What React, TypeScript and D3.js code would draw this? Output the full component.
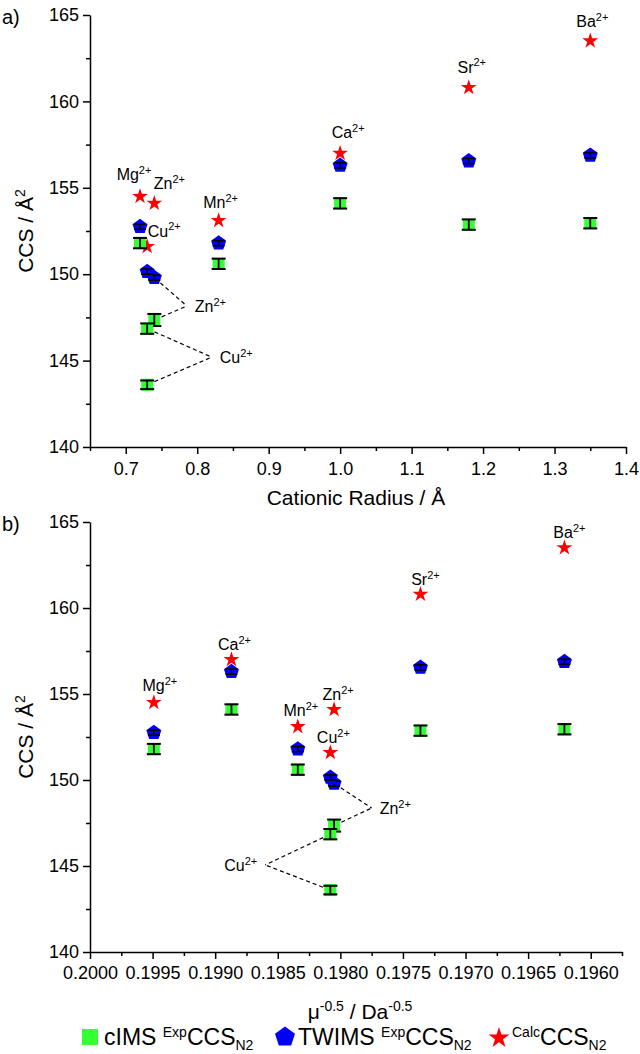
import React, { useEffect, useRef } from 'react';
import * as d3 from 'd3';

// metal ions, in the order they are listed everywhere below
const ions = ['Mg', 'Ca', 'Mn', 'Zn', 'Cu', 'Sr', 'Ba'];
const cationicRadius = [0.72, 1.0, 0.83, 0.74, 0.73, 1.18, 1.35];
const muInvSqrt = [0.19949, 0.19887, 0.19834, 0.19805, 0.19808, 0.19736, 0.19621];

// TWIMS exp CCS (N2) and calculated CCS, one per ion
const twimsCcs = [152.75, 156.3, 151.8, 149.8, 150.15, 156.55, 156.88];
const twimsErr = [0.15, 0.15, 0.15, 0.15, 0.15, 0.15, 0.15];
const calcCcs = [154.5, 157.0, 153.1, 154.1, 151.6, 160.8, 163.5];

// cIMS exp CCS (N2): Cu has two features
const cimsIons = ['Mg', 'Ca', 'Mn', 'Zn', 'Cu', 'Cu', 'Sr', 'Ba'];
const cimsCcs = [151.8, 154.1, 150.6, 147.35, 146.85, 143.6, 152.87, 152.95];
const cimsErr = [0.3, 0.3, 0.3, 0.35, 0.3, 0.25, 0.3, 0.3];

const yTicks = [140, 145, 150, 155, 160, 165];
const yMinor = [142.5, 147.5, 152.5, 157.5, 162.5];
const radiusTicks = [0.7, 0.8, 0.9, 1.0, 1.1, 1.2, 1.3, 1.4];
const radiusMinor = [0.65, 0.75, 0.85, 0.95, 1.05, 1.15, 1.25, 1.35];
const muTicks = [0.2, 0.1995, 0.199, 0.1985, 0.198, 0.1975, 0.197, 0.1965, 0.196];
const muMinor = [0.19975, 0.19925, 0.19875, 0.19825, 0.19775, 0.19725, 0.19675, 0.19625, 0.19575];

const FONT = "'Liberation Sans', Arial, Helvetica, sans-serif";
const GREEN = '#33ff33';
const BLUE = '#0000ff';
const RED = '#ff0000';

const starPath = (R: number) => {
  const r = R * 0.382;
  const pts = d3.range(10).map(i => {
    const a = (-90 + i * 36) * Math.PI / 180;
    const rr = i % 2 === 0 ? R : r;
    return [rr * Math.cos(a), rr * Math.sin(a)];
  });
  return 'M' + pts.map(p => p.join(',')).join('L') + 'Z';
};

const pentagonPath = (R: number) => {
  const pts = d3.range(5).map(i => {
    const a = (-90 + i * 72) * Math.PI / 180;
    return [R * Math.cos(a), R * Math.sin(a)];
  });
  return 'M' + pts.map(p => p.join(',')).join('L') + 'Z';
};

const panels = [
  {
    tag: 'a)', tagY: 24,
    xs: cationicRadius,
    xDomain: [0.65, 1.4], xRange: [90, 626], yRange: [447, 15],
    ticks: radiusTicks, minor: radiusMinor, fmt: d3.format('.1f'), tickPad: 8,
    title: 'Cationic Radius / Å', titleX: 356, titleY: 505,
    labelOff: { Mg: [-6, -16], Zn: [15, -14], Cu: [17, -10], Mn: [2, -13], Ca: [8, -15], Sr: [3, -15], Ba: [2, -14] } as Record<string, number[]>,
    leaders: [
      { ion: 'Zn', vertex: [0.7855, 148.16], from: [['twims', 3], ['cims', 3]], side: 'right' },
      { ion: 'Cu', vertex: [0.8204, 145.2], from: [['cims', 4], ['cims', 5]], side: 'right' },
    ],
  },
  {
    tag: 'b)', tagY: 531,
    xs: muInvSqrt,
    xDomain: [0.2, 0.19575], xRange: [90, 622], yRange: [952, 522],
    ticks: muTicks, minor: muMinor, fmt: d3.format('.4f'), tickPad: 7,
    title: 'mu', titleX: 360, titleY: 1019,
    labelOff: { Mg: [6, -12], Ca: [3, -10], Mn: [3, -11], Zn: [4, -9], Cu: [3, -9], Sr: [5, -9], Ba: [5, -10] } as Record<string, number[]>,
    leaders: [
      { ion: 'Zn', vertex: [0.19775, 148.37], from: [['twims', 3], ['cims', 3]], side: 'right' },
      { ion: 'Cu', vertex: [0.1986, 145.06], from: [['cims', 4], ['cims', 5]], side: 'left' },
    ],
  },
];

const ionLabel = (sel: any, ion: string, size: number, sup: number) => {
  sel.append('tspan').text(ion);
  sel.append('tspan').attr('font-size', sup).attr('dy', -size * 0.38).text('2+');
};

const App = () => {
  const ref = useRef<SVGSVGElement>(null);

  useEffect(() => {
    const svg = d3.select(ref.current);
    svg.selectAll('*').remove();
    svg.attr('font-family', FONT);

    panels.forEach(p => {
      const x = d3.scaleLinear().domain(p.xDomain).range(p.xRange);
      const y = d3.scaleLinear().domain([140, 165]).range(p.yRange);
      const g = svg.append('g');

      // axes
      const styleAxis = (ax: any) => {
        ax.selectAll('path').attr('stroke', '#000').attr('stroke-width', 1.5);
        ax.selectAll('line').attr('stroke', '#000').attr('stroke-width', 1.5);
        ax.selectAll('text').attr('font-size', 18).attr('fill', '#000').attr('font-family', FONT);
      };
      const x0 = p.xRange[0];
      const yb = p.yRange[0];
      g.append('g').attr('transform', `translate(${x0},0)`)
        .call(d3.axisLeft(y).tickValues(yMinor).tickSize(4).tickSizeOuter(0).tickFormat(() => ''))
        .call(styleAxis).select('.domain').remove();
      g.append('g').attr('transform', `translate(0,${yb})`)
        .call(d3.axisBottom(x).tickValues(p.minor).tickSize(4).tickSizeOuter(0).tickFormat(() => ''))
        .call(styleAxis).select('.domain').remove();
      g.append('g').attr('transform', `translate(${x0},0)`)
        .call(d3.axisLeft(y).tickValues(yTicks).tickSize(7).tickSizeOuter(0).tickPadding(4).tickFormat(d3.format('d')))
        .call(styleAxis);
      g.append('g').attr('transform', `translate(0,${yb})`)
        .call(d3.axisBottom(x).tickValues(p.ticks).tickSize(7).tickSizeOuter(0).tickPadding(p.tickPad).tickFormat(p.fmt as any))
        .call(styleAxis);

      // titles
      const midY = (p.yRange[0] + p.yRange[1]) / 2;
      const yt = g.append('text').attr('transform', `translate(33,${midY}) rotate(-90)`)
        .attr('text-anchor', 'middle').attr('font-size', 21);
      yt.append('tspan').text('CCS / Å');
      yt.append('tspan').attr('font-size', 14).attr('dy', -8).text('2');
      g.append('text').attr('x', 2).attr('y', p.tagY).attr('font-size', 20).text(p.tag);

      const xt = g.append('text').attr('x', p.titleX).attr('y', p.titleY)
        .attr('text-anchor', 'middle').attr('font-size', 21);
      if (p.title === 'mu') {
        xt.append('tspan').text('μ');
        xt.append('tspan').attr('font-size', 14).attr('dy', -8).text('-0.5');
        xt.append('tspan').attr('dy', 8).text(' / Da');
        xt.append('tspan').attr('font-size', 14).attr('dy', -8).text('-0.5');
      } else {
        xt.text(p.title);
      }

      const ionX = (ion: string) => x(p.xs[ions.indexOf(ion)]);
      const pt = (s: any) => s[0] === 'twims'
        ? [x(p.xs[s[1]]), y(twimsCcs[s[1]])]
        : [ionX(cimsIons[s[1]]), y(cimsCcs[s[1]])];

      // dashed leaders
      p.leaders.forEach(l => {
        const vx = x(l.vertex[0]);
        const vy = y(l.vertex[1]);
        l.from.forEach(s => {
          const [px, py] = pt(s);
          const dx = vx - px, dy = vy - py;
          const len = Math.hypot(dx, dy);
          g.append('line')
            .attr('x1', px + dx / len * 8).attr('y1', py + dy / len * 8)
            .attr('x2', vx).attr('y2', vy)
            .attr('stroke', '#000').attr('stroke-width', 1.2).attr('stroke-dasharray', '4,3');
        });
        const t = g.append('text')
          .attr('x', l.side === 'right' ? vx + 8 : vx - 8).attr('y', vy + 6)
          .attr('text-anchor', l.side === 'right' ? 'start' : 'end').attr('font-size', 16);
        ionLabel(t, l.ion, 16, 11);
      });

      // calculated CCS stars
      g.selectAll('.calc').data(ions).enter().append('path')
        .attr('d', starPath(8.3))
        .attr('transform', (d, i) => `translate(${x(p.xs[i])},${y(calcCcs[i])})`)
        .attr('fill', RED);

      // TWIMS pentagons with error bars
      const tw = g.selectAll('.tw').data(ions).enter().append('g')
        .attr('transform', (d, i) => `translate(${x(p.xs[i])},${y(twimsCcs[i])})`);
      tw.append('path').attr('d', pentagonPath(7.9)).attr('fill', BLUE);
      tw.each(function (d, i) {
        const e = y(twimsCcs[i] - twimsErr[i]) - y(twimsCcs[i]);
        const sel = d3.select(this);
        sel.append('line').attr('x1', 0).attr('x2', 0).attr('y1', -e).attr('y2', e).attr('stroke', '#000').attr('stroke-width', 1.6);
        [-e, e].forEach(v => sel.append('line').attr('x1', -6).attr('x2', 6).attr('y1', v).attr('y2', v).attr('stroke', '#000').attr('stroke-width', 1.6));
      });

      // cIMS squares with error bars
      const ci = g.selectAll('.ci').data(cimsIons).enter().append('g')
        .attr('transform', (d, i) => `translate(${ionX(d)},${y(cimsCcs[i])})`);
      ci.append('rect').attr('x', -6).attr('y', -6).attr('width', 12).attr('height', 12).attr('fill', GREEN);
      ci.each(function (d, i) {
        const e = y(cimsCcs[i] - cimsErr[i]) - y(cimsCcs[i]);
        const sel = d3.select(this);
        sel.append('line').attr('x1', 0).attr('x2', 0).attr('y1', -e).attr('y2', e).attr('stroke', '#000').attr('stroke-width', 1.8);
        [-e, e].forEach(v => sel.append('line').attr('x1', -7).attr('x2', 7).attr('y1', v).attr('y2', v).attr('stroke', '#000').attr('stroke-width', 2));
      });

      // ion labels above the stars
      ions.forEach((ion, i) => {
        const off = p.labelOff[ion];
        const t = g.append('text')
          .attr('x', x(p.xs[i]) + off[0]).attr('y', y(calcCcs[i]) + off[1])
          .attr('text-anchor', 'middle').attr('font-size', 16);
        ionLabel(t, ion, 16, 11);
      });
    });

    // legend
    const lg = svg.append('g').attr('font-size', 23);
    const ly = 1045;
    lg.append('rect').attr('x', 82).attr('y', ly - 16).attr('width', 16).attr('height', 16).attr('fill', GREEN);
    lg.append('path').attr('d', pentagonPath(10.5)).attr('transform', `translate(285,${ly - 8})`).attr('fill', BLUE);
    lg.append('path').attr('d', starPath(11)).attr('transform', `translate(499,${ly - 7})`).attr('fill', RED);
    const legendText = (lx: number, pre: string, sup: string) => {
      const t = lg.append('text').attr('x', lx).attr('y', ly);
      if (pre) t.append('tspan').text(pre);
      t.append('tspan').attr('font-size', 14).attr('dy', -8).text(sup);
      t.append('tspan').attr('dy', 8).text('CCS');
      t.append('tspan').attr('font-size', 14).attr('dy', 5).text('N2');
    };
    legendText(104, 'cIMS ', 'Exp');
    legendText(298, 'TWIMS ', 'Exp');
    legendText(512, '', 'Calc');
  }, []);

  return (
    <svg ref={ref} width={640} height={1054}
      style={{ position: 'absolute', left: 0, top: 0, background: '#fff' }} />
  );
};

export default App;
